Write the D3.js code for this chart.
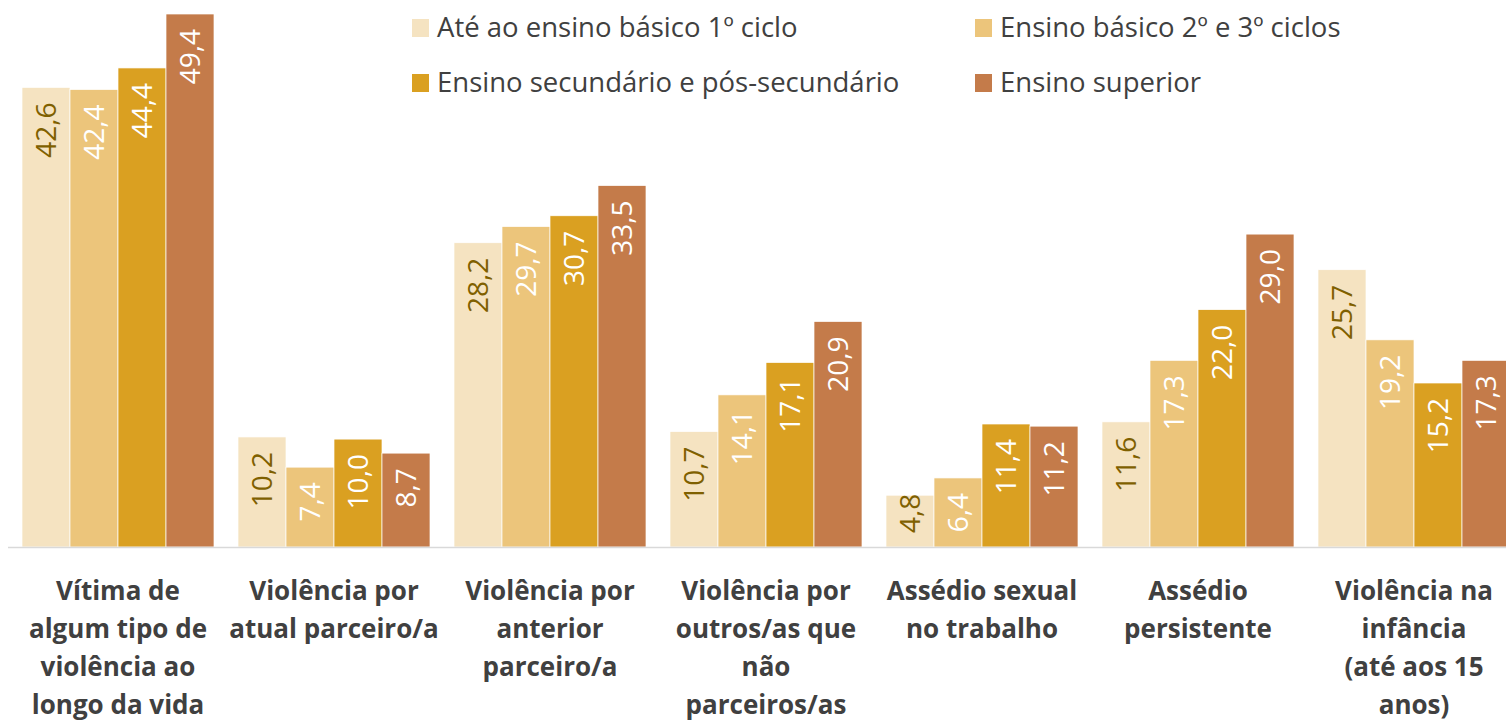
<!DOCTYPE html>
<html>
<head>
<meta charset="utf-8">
<script src="https://cdn.jsdelivr.net/npm/d3@7"></script>
<style>
  body { margin: 0; background: #fff; }
  svg { display: block; font-family: "Open Sans", sans-serif; }
</style>
</head>
<body>
<div id="chart"></div>
<script>
const categories = [
  ["Vítima de", "algum tipo de", "violência ao", "longo da vida"],
  ["Violência por", "atual parceiro/a"],
  ["Violência por", "anterior", "parceiro/a"],
  ["Violência por", "outros/as que", "não", "parceiros/as"],
  ["Assédio sexual", "no trabalho"],
  ["Assédio", "persistente"],
  ["Violência na", "infância", "(até aos 15", "anos)"]
];
const seriesNames = [
  "Até ao ensino básico 1º ciclo",
  "Ensino básico 2º e 3º ciclos",
  "Ensino secundário e pós-secundário",
  "Ensino superior"
];
const basico1 = [42.6, 10.2, 28.2, 10.7, 4.8, 11.6, 25.7];
const basico23 = [42.4, 7.4, 29.7, 14.1, 6.4, 17.3, 19.2];
const secundario = [44.4, 10.0, 30.7, 17.1, 11.4, 22.0, 15.2];
const superior = [49.4, 8.7, 33.5, 20.9, 11.2, 29.0, 17.3];
const seriesValues = [basico1, basico23, secundario, superior];

const colors = ["#F5E3C1", "#ECC57B", "#DAA021", "#C47B4A"];
const labelColors = ["#7F6000", "#fff", "#fff", "#fff"];

const width = 1506, height = 721;
const baseline = 547;
const fmt = (v) => v.toFixed(1).replace(".", ",");

const svg = d3.select("#chart").append("svg")
  .attr("width", width).attr("height", height);

const x = d3.scaleBand()
  .domain(d3.range(categories.length))
  .range([10, 1522])
  .paddingInner(24 / 216)
  .paddingOuter(12 / 216);

const xs = d3.scaleBand()
  .domain(d3.range(seriesNames.length))
  .range([0, x.bandwidth()]);

const y = d3.scaleLinear()
  .domain([0, 49.4])
  .range([baseline, 14]);

const data = [];
categories.forEach((c, i) => {
  seriesValues.forEach((vals, s) => data.push({ cat: i, s, v: vals[i] }));
});

svg.selectAll(".bar")
  .data(data)
  .join("rect")
  .attr("class", "bar")
  .attr("x", (d) => x(d.cat) + xs(d.s))
  .attr("y", (d) => y(d.v))
  .attr("width", xs.bandwidth())
  .attr("height", (d) => baseline - y(d.v))
  .attr("fill", (d) => colors[d.s])
  .attr("stroke", "#fff")
  .attr("stroke-width", 0.7);

svg.append("line")
  .attr("x1", 8).attr("x2", width)
  .attr("y1", baseline + 0.5).attr("y2", baseline + 0.5)
  .attr("stroke", "#d9d9d9").attr("stroke-width", 1.5);

// value labels, rotated inside the top of the bars
const labels = svg.selectAll(".val")
  .data(data)
  .join("text")
  .attr("class", "val")
  .attr("font-size", 28)
  .attr("fill", (d) => labelColors[d.s])
  .attr("text-anchor", "end")
  .text((d) => fmt(d.v));

labels.each(function (d) {
  const len = this.getComputedTextLength();
  const top = Math.min(y(d.v) + 15, baseline - len - 14);
  const cx = x(d.cat) + xs(d.s) + xs.bandwidth() / 2 + 10;
  d3.select(this).attr("transform", `translate(${cx},${top}) rotate(-90)`);
});

// category labels
const catG = svg.selectAll(".cat")
  .data(categories)
  .join("text")
  .attr("class", "cat")
  .attr("text-anchor", "middle")
  .attr("font-size", 26)
  .attr("font-weight", "bold")
  .attr("fill", "#404040");

catG.selectAll("tspan")
  .data((d, i) => d.map((line) => ({ line, i })))
  .join("tspan")
  .attr("x", (d) => x(d.i) + x.bandwidth() / 2)
  .attr("y", (d, j) => 600 + j * 38)
  .text((d) => d.line);

// legend
const legendPos = [[412, 19], [975, 19], [412, 74], [975, 74]];
const legend = svg.selectAll(".legend")
  .data(seriesNames)
  .join("g")
  .attr("class", "legend")
  .attr("transform", (d, i) => `translate(${legendPos[i][0]},${legendPos[i][1]})`);

legend.append("rect")
  .attr("width", 17).attr("height", 18)
  .attr("fill", (d, i) => colors[i]);

legend.append("text")
  .attr("x", 25).attr("y", 18)
  .attr("font-size", 27.5)
  .attr("fill", "#404040")
  .text((d) => d);
</script>
</body>
</html>
